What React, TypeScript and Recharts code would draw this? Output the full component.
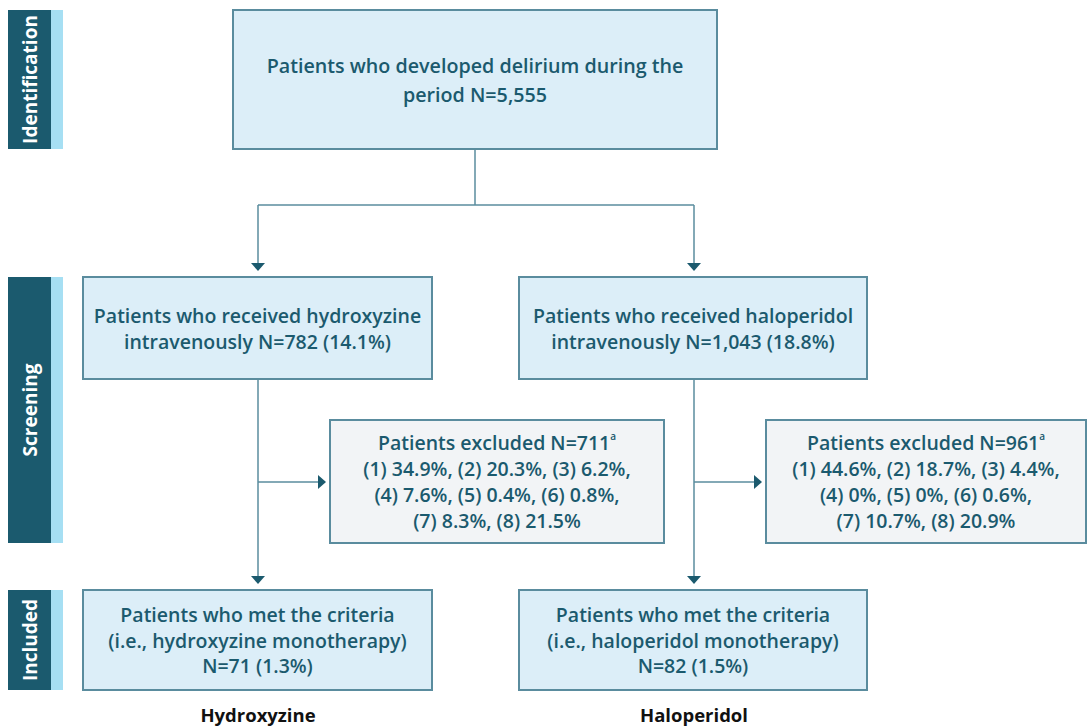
import { ComposedChart, XAxis, YAxis, ReferenceArea, ReferenceLine, ReferenceDot } from 'recharts';

// stage labels on the left
const stages = ['Identification', 'Screening', 'Included'];

// box texts
const topText = ['Patients who developed delirium during the', 'period N=5,555'];
const hydroxyScreen = ['Patients who received hydroxyzine', 'intravenously N=782 (14.1%)'];
const haloScreen = ['Patients who received haloperidol', 'intravenously N=1,043 (18.8%)'];
const hydroxyExcluded = ['Patients excluded N=711', '(1) 34.9%, (2) 20.3%, (3) 6.2%,', '(4) 7.6%, (5) 0.4%, (6) 0.8%,', '(7) 8.3%, (8) 21.5%'];
const haloExcluded = ['Patients excluded N=961', '(1) 44.6%, (2) 18.7%, (3) 4.4%,', '(4) 0%, (5) 0%, (6) 0.6%,', '(7) 10.7%, (8) 20.9%'];
const hydroxyIncluded = ['Patients who met the criteria', '(i.e., hydroxyzine monotherapy)', 'N=71 (1.3%)'];
const haloIncluded = ['Patients who met the criteria', '(i.e., haloperidol monotherapy)', 'N=82 (1.5%)'];
const arms = ['Hydroxyzine', 'Haloperidol'];

const W = 1087;
const H = 727;
const DARK = '#1b5a6e';
const LINE = '#5a8c9e';
const FONT = '"Open Sans", sans-serif';

const BoxLabel = ({ viewBox, lines, gap = 26, sup, size = 19.5 }: any) => {
  const { x, y, width, height } = viewBox;
  const cx = x + width / 2;
  const cy = y + height / 2;
  const start = cy - ((lines.length - 1) * gap) / 2;
  return (
    <text textAnchor="middle" fill={DARK} fontFamily={FONT} fontWeight={600} fontSize={size}>
      {lines.map((l: string, i: number) => (
        <tspan key={i} x={cx} y={start + i * gap} dominantBaseline="central">
          {l}
          {sup && i === 0 ? <tspan fontSize={10} dy={-7}>a</tspan> : null}
        </tspan>
      ))}
    </text>
  );
};

const StageLabel = ({ viewBox, text }: any) => {
  const { x, y, width, height } = viewBox;
  const cx = x + width / 2;
  const cy = y + height / 2;
  return (
    <text
      x={cx}
      y={cy}
      transform={`rotate(-90 ${cx} ${cy})`}
      textAnchor="middle"
      dominantBaseline="central"
      fill="#fff"
      fontFamily={FONT}
      fontWeight={700}
      fontSize={19}
    >
      {text}
    </text>
  );
};

const ArrowDown = ({ cx, cy }: any) => (
  <polygon points={`${cx - 7},${cy - 8} ${cx + 7},${cy - 8} ${cx},${cy}`} fill={DARK} />
);
const ArrowRight = ({ cx, cy }: any) => (
  <polygon points={`${cx - 8},${cy - 7} ${cx - 8},${cy + 7} ${cx},${cy}`} fill={DARK} />
);

type Box = { x1: number; x2: number; y1: number; y2: number; lines: string[]; fill: string; gap?: number; sup?: boolean; size?: number };

const boxes: Box[] = [
  { x1: 233, x2: 717, y1: 10, y2: 149, lines: topText, fill: '#dcEEF8', gap: 29, size: 19.7 },
  { x1: 83, x2: 432, y1: 277, y2: 379, lines: hydroxyScreen, fill: '#dcEEF8' },
  { x1: 519, x2: 867, y1: 277, y2: 379, lines: haloScreen, fill: '#dcEEF8' },
  { x1: 330, x2: 664, y1: 420, y2: 543, lines: hydroxyExcluded, fill: '#f2f4f6', sup: true },
  { x1: 766, x2: 1086, y1: 420, y2: 543, lines: haloExcluded, fill: '#f2f4f6', sup: true },
  { x1: 83, x2: 432, y1: 590, y2: 690, lines: hydroxyIncluded, fill: '#dcEEF8', gap: 25.5 },
  { x1: 519, x2: 867, y1: 590, y2: 690, lines: haloIncluded, fill: '#dcEEF8', gap: 25.5 },
];

const stageSpans = [
  [10, 149],
  [277, 543],
  [590, 690],
];

const segments = [
  [[475, 149], [475, 205]],
  [[258, 205], [694, 205]],
  [[258, 205], [258, 263]],
  [[694, 205], [694, 263]],
  [[258, 379], [258, 576]],
  [[694, 379], [694, 576]],
  [[258, 482], [318, 482]],
  [[694, 482], [754, 482]],
];

const downArrows = [
  [258, 271],
  [694, 271],
  [258, 584],
  [694, 584],
];
const rightArrows = [
  [326, 482],
  [762, 482],
];

export default function App() {
  return (
    <div style={{ position: 'absolute', left: 0, top: 0, width: W, height: H, background: '#fff' }}>
      <ComposedChart width={W} height={H} data={[{ x: 0, y: 0 }]} margin={{ top: 0, right: 0, bottom: 0, left: 0 }}>
        <XAxis type="number" dataKey="x" domain={[0, W]} hide allowDataOverflow />
        <YAxis type="number" dataKey="y" domain={[0, H]} reversed hide allowDataOverflow />
        {stages.map((s, i) => (
          <ReferenceArea key={`sd${i}`} x1={8} x2={51} y1={stageSpans[i][0]} y2={stageSpans[i][1]} fill={DARK} fillOpacity={1} stroke="none" label={(p: any) => <StageLabel viewBox={p.viewBox} text={s} />} />
        ))}
        {stages.map((s, i) => (
          <ReferenceArea key={`sl${i}`} x1={51} x2={63} y1={stageSpans[i][0]} y2={stageSpans[i][1]} fill="#a6dff3" fillOpacity={1} stroke="none" />
        ))}
        {segments.map((seg, i) => (
          <ReferenceLine key={`l${i}`} segment={[{ x: seg[0][0], y: seg[0][1] }, { x: seg[1][0], y: seg[1][1] }]} stroke={LINE} strokeWidth={1.5} />
        ))}
        {downArrows.map((a, i) => (
          <ReferenceDot key={`d${i}`} x={a[0]} y={a[1]} shape={(p: any) => <ArrowDown {...p} />} />
        ))}
        {rightArrows.map((a, i) => (
          <ReferenceDot key={`r${i}`} x={a[0]} y={a[1]} shape={(p: any) => <ArrowRight {...p} />} />
        ))}
        {boxes.map((b, i) => (
          <ReferenceArea
            key={`b${i}`}
            x1={b.x1}
            x2={b.x2}
            y1={b.y1}
            y2={b.y2}
            fill={b.fill}
            fillOpacity={1}
            stroke={LINE}
            strokeWidth={2}
            label={(p: any) => <BoxLabel viewBox={p.viewBox} lines={b.lines} gap={b.gap} sup={b.sup} size={b.size} />}
          />
        ))}
        {arms.map((a, i) => (
          <ReferenceDot
            key={`a${i}`}
            x={i === 0 ? 258 : 694}
            y={714}
            shape={(p: any) => (
              <text x={p.cx} y={p.cy} textAnchor="middle" dominantBaseline="central" fill="#111" fontFamily={FONT} fontWeight={700} fontSize={18.5}>
                {a}
              </text>
            )}
          />
        ))}
      </ComposedChart>
    </div>
  );
}
